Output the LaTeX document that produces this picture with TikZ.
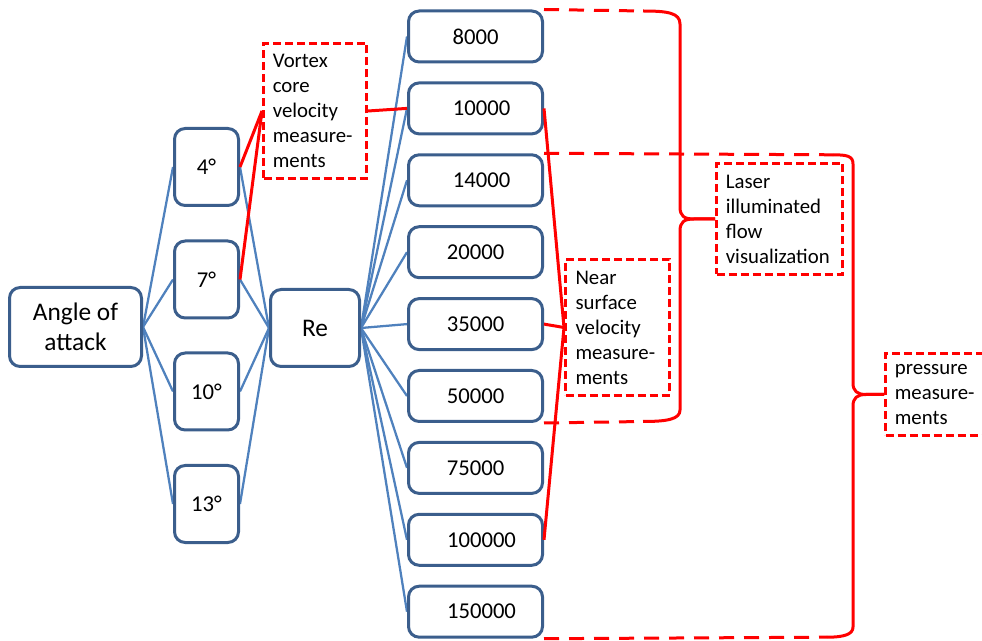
\documentclass[tikz,border=0pt]{standalone}
\usepackage{fontspec}
\setmainfont{Carlito}
\usetikzlibrary{backgrounds}
\definecolor{boxblue}{HTML}{3B5E8C}
\definecolor{linkblue}{HTML}{4F81BD}
\definecolor{markred}{HTML}{FF0000}
\begin{document}
\begin{tikzpicture}[x=0.75pt,y=-0.75pt,
  bluebox/.style={draw=boxblue, line width=2.25pt, rounded corners=8pt,
    fill=white, inner sep=0pt, align=center},
  bigbox/.style={bluebox, minimum width=99pt, minimum height=59.25pt,
    font=\fontsize{19}{22.5}\selectfont},
  rebox/.style={bluebox, minimum width=66.75pt, minimum height=57.75pt,
    font=\fontsize{19}{22.5}\selectfont},
  degbox/.style={bluebox, minimum width=48pt, minimum height=57.75pt,
    font=\fontsize{17}{20}\selectfont},
  numbox/.style={bluebox, minimum width=100.5pt, minimum height=38.25pt,
    font=\fontsize{17}{20}\selectfont},
  notebox/.style={draw=markred, line width=2.25pt, dash pattern=on 6pt off 3pt,
    fill=white, inner ysep=0pt, inner xsep=7pt, align=left,
    font=\fontsize{15.6}{18.75}\selectfont},
  bluelink/.style={draw=linkblue, line width=1.7pt},
  redlink/.style={draw=markred, line width=2.25pt},
  reddash/.style={draw=markred, line width=2.25pt, dash pattern=on 11.25pt off 7.5pt},
  redbrace/.style={draw=markred, line width=2.25pt, line join=round}
]
\useasboundingbox (0,0) rectangle (982,641);
\clip (0,0) rectangle (982,641);

% main boxes
\node[bigbox] (aoa) at (75.5,327) {Angle of\\attack};
\node[degbox] (d4)  at (206.5,167)   {4°};
\node[degbox] (d7)  at (206.5,279.5) {7°};
\node[degbox] (d10) at (206.5,391.5) {10°};
\node[degbox] (d13) at (206.5,504)   {13°};
\node[rebox] (re) at (315,328) {Re};

\foreach \v/\y/\s in {8000/36.5/0, 10000/108.4/9, 14000/180.3/9,
    20000/252.2/0, 35000/324.1/0, 50000/396/0, 75000/467.9/0,
    100000/539.8/9, 150000/611.7/9}
  \node[numbox] (n\v) at (475.5,\y) {\hspace*{\s pt}\v};

% measurement notes
\node[notebox, text width=63.25pt, minimum height=101.25pt] (vortex) at (315,111)
  {Vortex\\core\\velocity\\measure-\\ments};
\node[notebox, text width=63pt, inner xsep=7.5pt, minimum height=102pt] (near) at (617.5,327.5)
  {Near\\surface\\velocity\\measure-\\ments};
\node[notebox, text width=80.5pt, minimum height=83.25pt] (laser) at (779.5,219)
  {Laser\\illuminated\\flow\\visualization};
\node[notebox, text width=64pt, minimum height=61.5pt] (pressure) at (937.5,394.5)
  {pressure\\measure-\\ments};

% tree connectors
\begin{pgfonlayer}{background}
\foreach \d in {d4,d7,d10,d13} {
  \draw[bluelink] (aoa.east) -- (\d.west);
  \draw[bluelink] (\d.east) -- (re.west);
}
\foreach \v in {8000,10000,14000,20000,35000,50000,75000,100000,150000}
  \draw[bluelink] (re.east) -- (n\v.west);
\end{pgfonlayer}

% links to the measurement notes
\draw[redlink] (d4.east) -- (vortex.west);
\draw[redlink] (d7.east) -- (vortex.west);
\draw[redlink] (vortex.east) -- (n10000.west);
\draw[redlink] (n10000.east) -- (near.west);
\draw[redlink] (n35000.east) -- (near.west);
\draw[redlink] (n100000.east) -- (near.west);

% brace for the flow visualization range
\coordinate (b1top) at (643,11);
\coordinate (b1bot) at (643,421.5);
\draw[reddash] (n8000.north east) -- (b1top);
\draw[reddash] (n50000.south east) -- (b1bot);
\draw[redbrace] (b1top) .. controls (668,11) and (680,13) .. (680,24)
  -- (680,207) .. controls (680,216) and (684,219) .. (694,219) -- (laser.west);
\draw[redbrace] (laser.west) -- (694,219) .. controls (684,219) and (680,222) .. (680,231)
  -- (680,410) .. controls (680,419) and (668,421.5) .. (b1bot);

% brace for the pressure range
\coordinate (b2top) at (833,154.8);
\coordinate (b2bot) at (827,637.2);
\draw[reddash] (n14000.north east) -- (b2top);
\draw[reddash] (n150000.south east) -- (b2bot);
\draw[redbrace] (b2top) .. controls (847,154.8) and (853,156) .. (853,164)
  -- (853,383) .. controls (853,391) and (857,394.5) .. (866,394.5) -- (pressure.west);
\draw[redbrace] (pressure.west) -- (866,394.5) .. controls (857,394.5) and (853,398) .. (853,406)
  -- (853,627) .. controls (853,634) and (845,637.2) .. (b2bot);
\end{tikzpicture}
\end{document}
